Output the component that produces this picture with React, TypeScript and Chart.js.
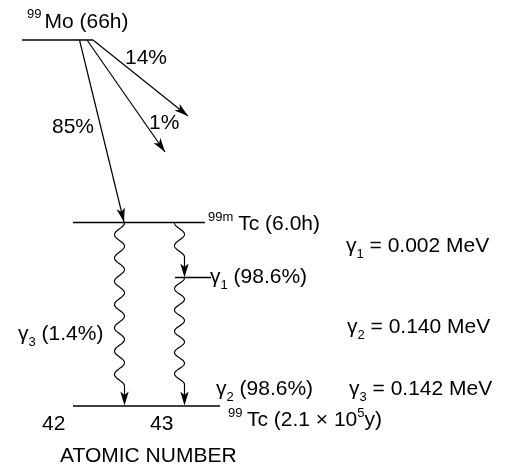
import React, { useEffect, useRef } from "react";
import { Chart, registerables } from "chart.js";

Chart.register(...registerables);

// ---- Diagram data (diagram units: x across, y down) ----
const levelNames = ["99Mo", "99mTc", "99mTc-intermediate", "99Tc"];
const levelY = [40, 222.5, 277.5, 406];
const levelXStart = [22, 73, 175, 73];
const levelXEnd = [93, 205, 211, 220];

const betaBranches = ["85%", "1%", "14%"];
const betaFromX = [79.5, 87, 93];
const betaFromY = [40, 40, 40];
const betaToX = [124, 165, 188];
const betaToY = [222, 152, 116];

const gammaNames = ["γ3", "γ1", "γ2"];
const gammaCenterX = [119.5, 179.5, 179.5];
const gammaFromY = [223, 223, 278];
const gammaToY = [405.5, 277.5, 405.5];
const gammaWaveEndY = [386, 257, 384.5];
const gammaCycles = [7, 1.5, 5];
const gammaStartSide = [1, -1, 1];

type Seg = { t: string; k?: "sup" | "sub"; gap?: number };
const labelTexts: Seg[][] = [
  [{ t: "99", k: "sup" }, { t: "Mo (66h)", gap: 3 }],
  [{ t: "14%" }],
  [{ t: "1%" }],
  [{ t: "85%" }],
  [{ t: "99m", k: "sup" }, { t: "Tc (6.0h)", gap: 5 }],
  [{ t: "γ" }, { t: "1", k: "sub" }, { t: " = 0.002 MeV" }],
  [{ t: "γ" }, { t: "1", k: "sub" }, { t: " (98.6%)" }],
  [{ t: "γ" }, { t: "2", k: "sub" }, { t: " = 0.140 MeV" }],
  [{ t: "γ" }, { t: "3", k: "sub" }, { t: " (1.4%)" }],
  [{ t: "γ" }, { t: "2", k: "sub" }, { t: " (98.6%)" }],
  [{ t: "γ" }, { t: "3", k: "sub" }, { t: " = 0.142 MeV" }],
  [{ t: "99", k: "sup" }, { t: "Tc (2.1 × 10", gap: 4.5 }, { t: "5", k: "sup" }, { t: "y)" }],
  [{ t: "42" }],
  [{ t: "43" }],
  [{ t: "ATOMIC NUMBER" }],
];
const labelX = [27, 125, 149, 52, 208, 346, 210, 347, 18, 216, 349, 228, 42, 150, 60];
const labelY = [27.5, 64, 129, 133, 230, 252, 283, 333, 340, 395, 395, 426, 430, 430, 462];

const FONT = '"Liberation Sans", Arial, Helvetica, sans-serif';
const MAIN_SIZE = 21;
const SMALL_SIZE = 13;
const WAVE_AMP = 5;

function arrowHead(ctx: CanvasRenderingContext2D, tx: number, ty: number, fx: number, fy: number) {
  const len = 14, half = 4.2, notch = 3.5;
  const dx = tx - fx, dy = ty - fy;
  const d = Math.hypot(dx, dy) || 1;
  const ux = dx / d, uy = dy / d;
  const px = -uy, py = ux;
  ctx.beginPath();
  ctx.moveTo(tx, ty);
  ctx.lineTo(tx - len * ux + half * px, ty - len * uy + half * py);
  ctx.lineTo(tx - (len - notch) * ux, ty - (len - notch) * uy);
  ctx.lineTo(tx - len * ux - half * px, ty - len * uy - half * py);
  ctx.closePath();
  ctx.fill();
}

const diagramPlugin = {
  id: "decayDiagram",
  afterDatasetsDraw(chart: any) {
    const ctx: CanvasRenderingContext2D = chart.ctx;
    const xs = chart.scales.x;
    const ys = chart.scales.y;
    const X = (v: number) => xs.getPixelForValue(v);
    const Y = (v: number) => ys.getPixelForValue(v);
    ctx.save();
    ctx.fillStyle = "#000";
    ctx.strokeStyle = "#000";

    // beta arrowheads
    for (let i = 0; i < betaBranches.length; i++) {
      arrowHead(ctx, X(betaToX[i]), Y(betaToY[i]), X(betaFromX[i]), Y(betaFromY[i]));
    }

    // gamma wavy arrows
    ctx.lineWidth = 1.2;
    for (let i = 0; i < gammaNames.length; i++) {
      const cx = gammaCenterX[i];
      const y0 = gammaFromY[i];
      const y1 = gammaWaveEndY[i];
      const s = gammaStartSide[i];
      const cyc = gammaCycles[i];
      ctx.beginPath();
      const steps = 200;
      for (let k = 0; k <= steps; k++) {
        const f = k / steps;
        const yy = y0 + (y1 - y0) * f;
        const xx = cx + s * WAVE_AMP * Math.cos(2 * Math.PI * cyc * f);
        if (k === 0) ctx.moveTo(X(xx), Y(yy));
        else ctx.lineTo(X(xx), Y(yy));
      }
      const endX = cx + s * WAVE_AMP * Math.cos(2 * Math.PI * cyc);
      ctx.lineTo(X(endX), Y(gammaToY[i]) - 6);
      ctx.stroke();
      arrowHead(ctx, X(endX), Y(gammaToY[i]), X(endX), Y(y1));
    }

    // labels
    ctx.textBaseline = "alphabetic";
    ctx.textAlign = "left";
    for (let i = 0; i < labelTexts.length; i++) {
      let cx = X(labelX[i]);
      const by = Y(labelY[i]);
      for (const seg of labelTexts[i]) {
        if (seg.gap) cx += seg.gap;
        const size = seg.k ? SMALL_SIZE : MAIN_SIZE;
        const off = seg.k === "sup" ? -9.5 : seg.k === "sub" ? 6 : 0;
        ctx.font = `${size}px ${FONT}`;
        ctx.fillText(seg.t, cx, by + off);
        cx += ctx.measureText(seg.t).width;
      }
    }
    ctx.restore();
  },
};

export default function App() {
  const ref = useRef<HTMLCanvasElement | null>(null);
  useEffect(() => {
    if (!ref.current) return;
    const datasets: any[] = [];
    for (let i = 0; i < levelNames.length; i++) {
      datasets.push({
        label: levelNames[i],
        data: [
          { x: levelXStart[i], y: levelY[i] },
          { x: levelXEnd[i], y: levelY[i] },
        ],
        showLine: true,
        borderColor: "#000",
        borderWidth: 1.5,
        pointRadius: 0,
      });
    }
    for (let i = 0; i < betaBranches.length; i++) {
      datasets.push({
        label: "β " + betaBranches[i],
        data: [
          { x: betaFromX[i], y: betaFromY[i] },
          { x: betaToX[i], y: betaToY[i] },
        ],
        showLine: true,
        borderColor: "#000",
        borderWidth: 1.2,
        pointRadius: 0,
      });
    }
    const chart = new Chart(ref.current, {
      type: "scatter",
      data: { datasets },
      options: {
        animation: false,
        responsive: false,
        devicePixelRatio: 1,
        layout: { padding: 0 },
        scales: {
          x: { type: "linear", min: 0, max: 511, display: false },
          y: { type: "linear", min: 0, max: 469, reverse: true, display: false },
        },
        plugins: { legend: { display: false }, tooltip: { enabled: false } },
      },
      plugins: [diagramPlugin],
    });
    return () => chart.destroy();
  }, []);
  return (
    <div style={{ position: "absolute", left: 0, top: 0, width: 511, height: 469, background: "#fff" }}>
      <canvas ref={ref} width={511} height={469} style={{ display: "block" }} />
    </div>
  );
}
